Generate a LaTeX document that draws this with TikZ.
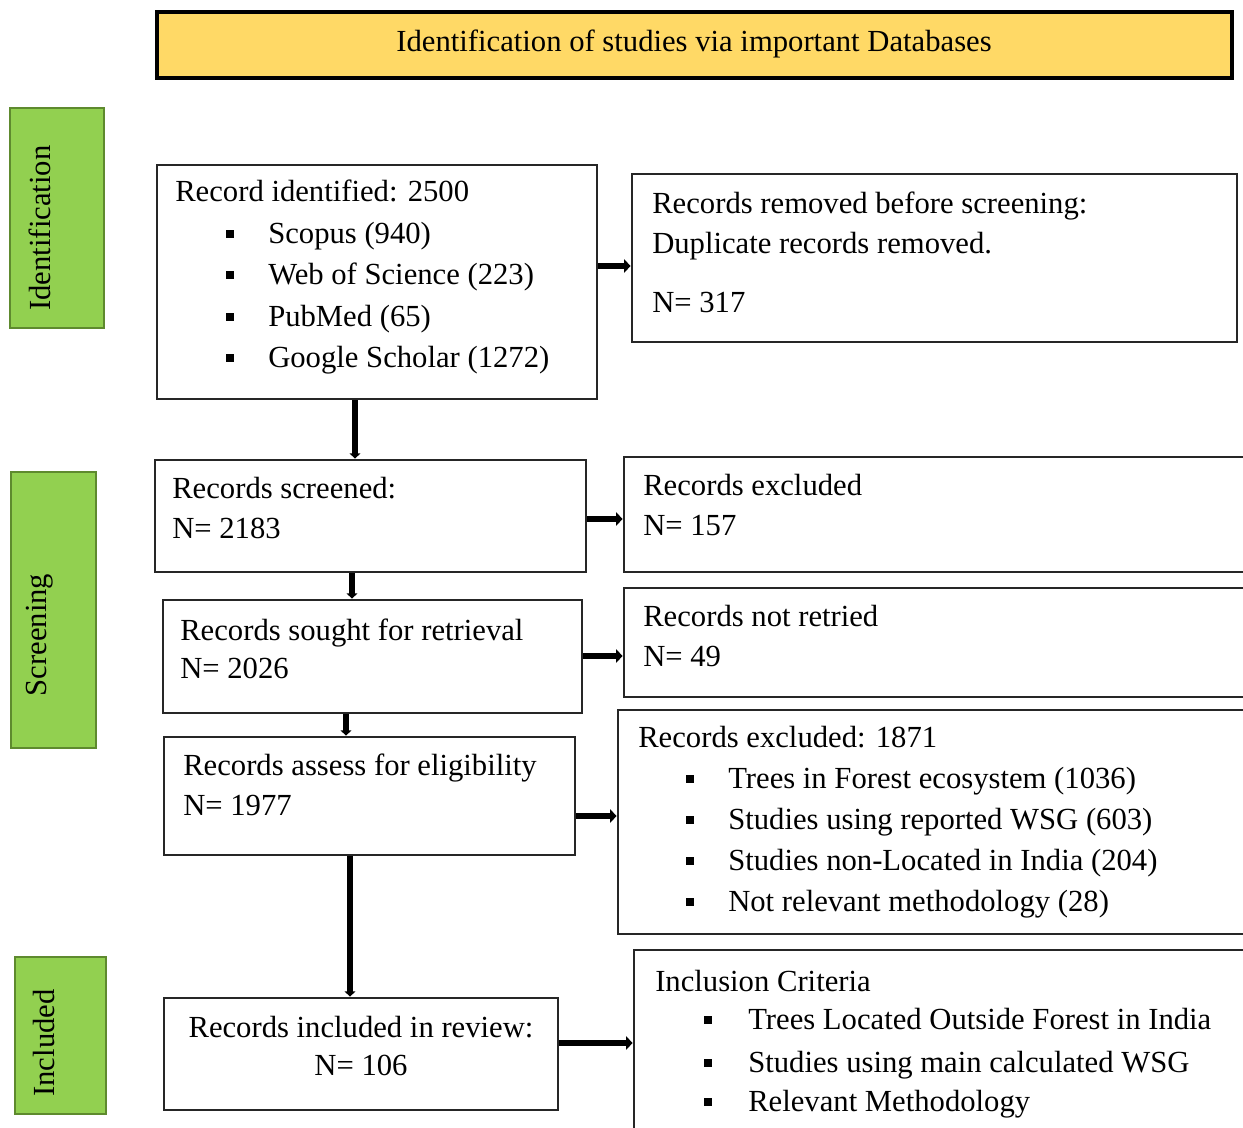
\documentclass[tikz,border=0pt]{standalone}
\usepackage{fontspec}
\setmainfont{Liberation Serif}
\usetikzlibrary{fit,arrows.meta}
\definecolor{titleyel}{HTML}{FFD966}
\definecolor{stagegreen}{HTML}{92D050}
\definecolor{stageedge}{HTML}{5E8A2E}
\tikzset{
  box/.style={draw=black!85, line width=2pt, inner sep=0pt, fill=white},
  titlebox/.style={draw=black, line width=2.4pt, inner sep=0pt, fill=titleyel},
  stagebox/.style={draw=stageedge, line width=1.4pt, inner sep=0pt, fill=stagegreen},
  txt/.style={anchor=base west, inner sep=0pt, font=\fontsize{23}{31}\selectfont},
  ctxt/.style={anchor=base, inner sep=0pt, font=\fontsize{23}{31}\selectfont},
  stagetxt/.style={rotate=90, inner sep=0pt, font=\fontsize{23}{31}\selectfont},
  arr/.style={line width=5pt, -{Triangle[length=5pt,width=10pt]}},
  vline/.style={line width=4pt, -{Triangle[length=4pt,width=8pt]}},
  bul/.style={fill=black}
}
\begin{document}
\begin{tikzpicture}[x=0.75pt,y=-0.75pt]
\useasboundingbox (0,0) rectangle (1243,1128);
% title
\node[titlebox, fit={(157,12) (1232,78)}] (title) {};
\node[ctxt] (titletxt) at (694,51) {Identification of studies via important Databases};
% stage labels
\node[stagebox, fit={(10,108) (104,328)}] (sid) {};
\node[stagetxt] (sidt) at (40,228) {Identification};
\node[stagebox, fit={(11,472) (96,748)}] (ssc) {};
\node[stagetxt] (ssct) at (40,635) {Screening};
\node[stagebox, fit={(15,957) (106,1114)}] (sin) {};
\node[stagetxt] (sint) at (44,1043) {Included};
% boxes
\node[box, fit={(157,165) (597,399)}] (b1) {};
\node[box, fit={(632,174) (1237,342)}] (rem) {};
\node[box, fit={(155,460) (586,572)}] (scr) {};
\node[box, fit={(624,457) (1250,572)}] (exc) {};
\node[box, fit={(163,600) (582,713)}] (sou) {};
\node[box, fit={(624,588) (1250,697)}] (nrt) {};
\node[box, fit={(164,737) (575,855)}] (ass) {};
\node[box, fit={(618,710) (1250,934)}] (exc2) {};
\node[box, fit={(164,998) (558,1110)}] (inc) {};
\node[box, fit={(634,950) (1250,1140)}] (cri) {};
% texts box1
\node[txt] (t1) at (175,201) {Record identified: 2500};
\node[txt] (t1a) at (268,243) {Scopus (940)};
\node[txt] (t1b) at (268,284) {Web of Science (223)};
\node[txt] (t1c) at (268,326) {PubMed (65)};
\node[txt] (t1d) at (268,367) {Google Scholar (1272)};
\foreach \yy in {234,275,317,358} \fill[bul] (226,\yy-4) rectangle (234,\yy+4);
% removed
\node[txt] (t2) at (652,213) {Records removed before screening:};
\node[txt] (t2a) at (652,253) {Duplicate records removed.};
\node[txt] (t2b) at (652,312) {N= 317};
% screened
\node[txt] (t3) at (172,498) {Records screened:};
\node[txt] (t3a) at (172,538) {N= 2183};
% excluded
\node[txt] (t4) at (643,495) {Records excluded};
\node[txt] (t4a) at (643,535) {N= 157};
% sought
\node[txt] (t5) at (180,640) {Records sought for retrieval};
\node[txt] (t5a) at (180,678) {N= 2026};
% not retried
\node[txt] (t6) at (643,626) {Records not retried};
\node[txt] (t6a) at (643,666) {N= 49};
% assess
\node[txt] (t7) at (183,775) {Records assess for eligibility};
\node[txt] (t7a) at (183,815) {N= 1977};
% excluded 1871
\node[txt] (t8) at (638,747) {Records excluded: 1871};
\node[txt] (t8a) at (728,788) {Trees in Forest ecosystem (1036)};
\node[txt] (t8b) at (728,829) {Studies using reported WSG (603)};
\node[txt] (t8c) at (728,870) {Studies non-Located in India (204)};
\node[txt] (t8d) at (728,911) {Not relevant methodology (28)};
\foreach \yy in {779,820,861,902} \fill[bul] (686,\yy-4) rectangle (694,\yy+4);
% included
\node[ctxt] (t9) at (361,1037) {Records included in review:};
\node[ctxt] (t9a) at (361,1075) {N= 106};
% criteria
\node[txt] (t10) at (655,991) {Inclusion Criteria};
\node[txt] (t10a) at (748,1029) {Trees Located Outside Forest in India};
\node[txt] (t10b) at (748,1072) {Studies using main calculated WSG};
\node[txt] (t10c) at (748,1111) {Relevant Methodology};
\foreach \yy in {1020,1063,1102} \fill[bul] (704,\yy-4) rectangle (712,\yy+4);
% connector reference coordinates
\coordinate (h1) at (0,266);
\coordinate (h2) at (0,519);
\coordinate (h3) at (0,656);
\coordinate (h4) at (0,816);
\coordinate (h5) at (0,1043);
\coordinate (v1) at (355,0);
\coordinate (v2) at (352,0);
\coordinate (v3) at (346,0);
\coordinate (v4) at (350,0);
% horizontal arrows
\draw[arr] (b1.east |- h1) -- (rem.west |- h1);
\draw[arr] (scr.east |- h2) -- (exc.west |- h2);
\draw[arr] (sou.east |- h3) -- (nrt.west |- h3);
\draw[arr] (ass.east |- h4) -- (exc2.west |- h4);
\draw[arr] (inc.east |- h5) -- (cri.west |- h5);
% vertical connectors
\draw[vline] (b1.south -| v1) -- (scr.north -| v1);
\draw[vline] (scr.south -| v2) -- (sou.north -| v2);
\draw[vline] (sou.south -| v3) -- (ass.north -| v3);
\draw[vline] (ass.south -| v4) -- (inc.north -| v4);
\end{tikzpicture}
\end{document}
